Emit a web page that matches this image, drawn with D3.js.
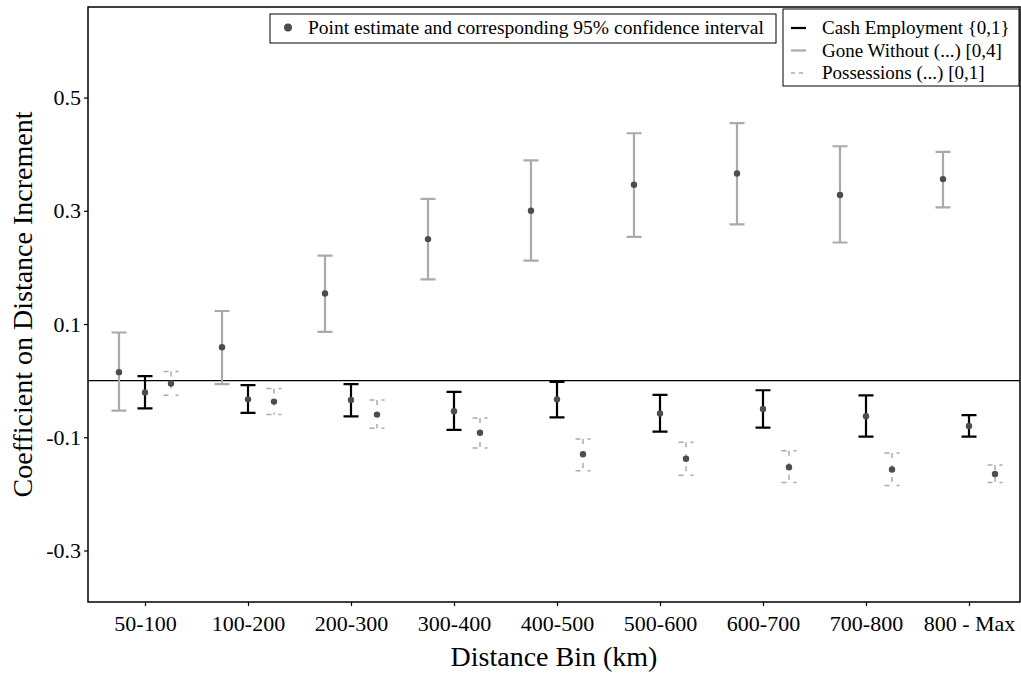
<!DOCTYPE html>
<html>
<head>
<meta charset="utf-8">
<script src="https://cdn.jsdelivr.net/npm/d3@7"></script>
<style>
  body { margin: 0; background: #fff; }
  svg { display: block; font-family: "Liberation Serif", "DejaVu Serif", serif; }
</style>
</head>
<body>
<div id="chart"></div>
<script>
var bins = ["50-100", "100-200", "200-300", "300-400", "400-500", "500-600", "600-700", "700-800", "800 - Max"];
var yTicks = [-0.3, -0.1, 0.1, 0.3, 0.5];

// Gone Without (...) [0,4]
var goneEst = [0.015, 0.059, 0.154, 0.250, 0.300, 0.346, 0.366, 0.328, 0.356];
var goneLo = [-0.053, -0.006, 0.086, 0.179, 0.212, 0.254, 0.276, 0.244, 0.306];
var goneHi = [0.085, 0.123, 0.221, 0.321, 0.389, 0.437, 0.455, 0.414, 0.404];

// Cash Employment {0,1}
var cashEst = [-0.021, -0.033, -0.034, -0.054, -0.033, -0.058, -0.050, -0.063, -0.080];
var cashLo = [-0.049, -0.057, -0.063, -0.087, -0.065, -0.090, -0.083, -0.099, -0.099];
var cashHi = [0.008, -0.008, -0.006, -0.020, -0.002, -0.025, -0.017, -0.026, -0.061];

// Possessions (...) [0,1]
var possEst = [-0.005, -0.037, -0.060, -0.092, -0.130, -0.138, -0.153, -0.157, -0.165];
var possLo = [-0.026, -0.060, -0.084, -0.119, -0.159, -0.167, -0.180, -0.185, -0.180];
var possHi = [0.016, -0.014, -0.034, -0.066, -0.103, -0.109, -0.124, -0.128, -0.149];

var seriesNames = ["Gone Without (...) [0,4]", "Cash Employment {0,1}", "Possessions (...) [0,1]"];
var legendOrder = ["Cash Employment {0,1}", "Gone Without (...) [0,4]", "Possessions (...) [0,1]"];

var styles = {};
styles[seriesNames[0]] = { color: "#aaaaaa", width: 2.2, dash: null };
styles[seriesNames[1]] = { color: "#000000", width: 2.2, dash: null };
styles[seriesNames[2]] = { color: "#aaaaaa", width: 1.5, dash: "5,7" };

var rows = [];
bins.forEach(function(b, i) {
  rows.push({ bin: b, series: seriesNames[0], est: goneEst[i], lo: goneLo[i], hi: goneHi[i] });
  rows.push({ bin: b, series: seriesNames[1], est: cashEst[i], lo: cashLo[i], hi: cashHi[i] });
  rows.push({ bin: b, series: seriesNames[2], est: possEst[i], lo: possLo[i], hi: possHi[i] });
});

var margin = { top: 7, right: 1, bottom: 71, left: 88 };
var width = 1021 - margin.left - margin.right;
var height = 673 - margin.top - margin.bottom;

var svg = d3.select("#chart").append("svg").attr("width", 1021).attr("height", 673);
var g = svg.append("g").attr("transform", "translate(" + margin.left + "," + margin.top + ")");

var x = d3.scalePoint().domain(bins).range([57, 881]);
var dodge = d3.scalePoint().domain(seriesNames).range([-26, 26]);
var y = d3.scaleLinear().domain([-0.391, 0.660]).range([height, 0]);

// axes
var yAxis = d3.axisLeft(y).tickValues(yTicks).tickSize(4).tickPadding(3).tickFormat(function(d) { return d.toFixed(1); });
var xAxis = d3.axisBottom(x).tickSize(4).tickPadding(9);

var ya = g.append("g").call(yAxis).attr("font-family", null).attr("font-size", null);
ya.select(".domain").remove();
ya.selectAll("text").style("font-size", "22px").attr("fill", "#000");
ya.selectAll("line").attr("stroke", "#000").attr("stroke-width", 1.2);

var xa = g.append("g").attr("transform", "translate(0," + height + ")").call(xAxis).attr("font-family", null).attr("font-size", null);
xa.select(".domain").remove();
xa.selectAll("text").style("font-size", "22px").attr("fill", "#000");
xa.selectAll("line").attr("stroke", "#000").attr("stroke-width", 1.2);

// zero line
g.append("line").attr("x1", 0).attr("x2", width).attr("y1", y(0)).attr("y2", y(0))
  .attr("stroke", "#000").attr("stroke-width", 1.2);

// error bars
var cap = 7.5;
var bars = g.selectAll(".bar").data(rows).enter().append("g").attr("class", "bar")
  .attr("transform", function(d) { return "translate(" + (x(d.bin) + dodge(d.series)) + ",0)"; });

bars.append("path")
  .attr("d", function(d) {
    return "M" + (-cap) + "," + y(d.hi) + "H" + cap +
      "M0," + y(d.hi) + "V" + y(d.lo) +
      "M" + (-cap) + "," + y(d.lo) + "H" + cap;
  })
  .attr("fill", "none")
  .attr("stroke", function(d) { return styles[d.series].color; })
  .attr("stroke-width", function(d) { return styles[d.series].width; })
  .attr("stroke-dasharray", function(d) { return styles[d.series].dash; });

bars.append("circle").attr("cx", 0).attr("cy", function(d) { return y(d.est); }).attr("r", 3.2)
  .attr("fill", "#4d4d4d");

// panel border
g.append("rect").attr("x", 0).attr("y", 0).attr("width", width).attr("height", height)
  .attr("fill", "none").attr("stroke", "#000").attr("stroke-width", 1.5);

// axis titles
svg.append("text").attr("x", margin.left + width / 2).attr("y", 666).attr("text-anchor", "middle")
  .style("font-size", "28px").text("Distance Bin (km)");
svg.append("text").attr("transform", "translate(32," + (margin.top + height / 2) + ") rotate(-90)")
  .attr("text-anchor", "middle").style("font-size", "28px").text("Coefficient on Distance Increment");

// legend: point estimate
var l1 = svg.append("g");
l1.append("rect").attr("x", 270).attr("y", 14).attr("width", 506).attr("height", 29)
  .attr("fill", "#fff").attr("stroke", "#000").attr("stroke-width", 1);
l1.append("circle").attr("cx", 288).attr("cy", 27.5).attr("r", 4).attr("fill", "#4d4d4d");
l1.append("text").attr("x", 308).attr("y", 34).style("font-size", "19.5px").text("Point estimate and corresponding 95% confidence interval");

// legend: series
var l2 = svg.append("g");
l2.append("rect").attr("x", 783).attr("y", 9).attr("width", 236).attr("height", 77)
  .attr("fill", "#fff").attr("stroke", "#000").attr("stroke-width", 1);
var items = l2.selectAll(".item").data(legendOrder).enter().append("g").attr("class", "item")
  .attr("transform", function(d, i) { return "translate(0," + (28 + i * 22.5) + ")"; });
items.append("line").attr("x1", 791).attr("x2", 806).attr("y1", 0).attr("y2", 0)
  .attr("stroke", function(d) { return styles[d].color; })
  .attr("stroke-width", function(d) { return styles[d].width; })
  .attr("stroke-dasharray", function(d) { return styles[d].dash ? "4,4" : null; });
items.append("text").attr("x", 822).attr("y", 6).style("font-size", "19px").text(function(d) { return d; });
</script>
</body>
</html>
